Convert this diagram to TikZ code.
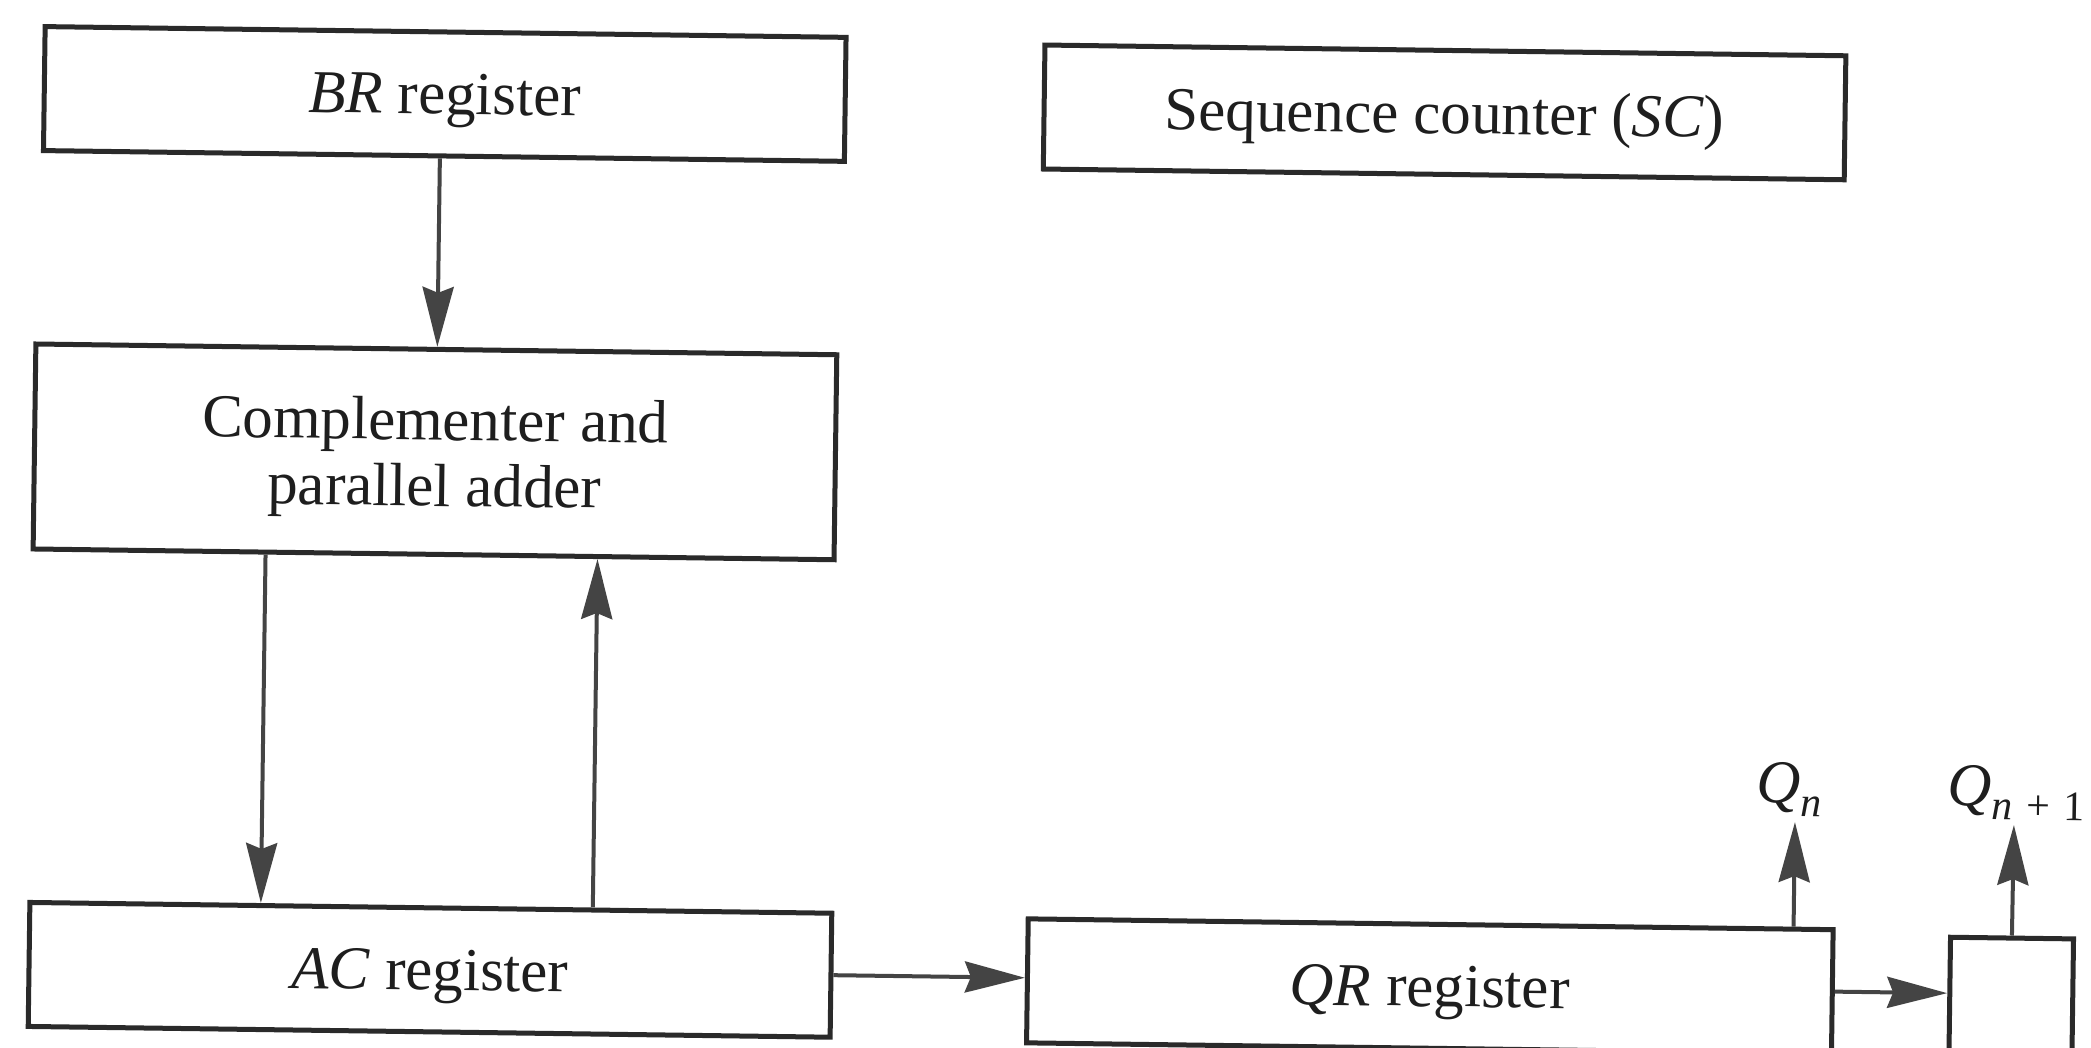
\documentclass[tikz,border=0pt]{standalone}
\usepackage{fontspec}
\setmainfont{Liberation Serif}
\usetikzlibrary{arrows.meta}
\definecolor{boxline}{HTML}{2A2A2A}
\definecolor{arrline}{HTML}{444444}
\definecolor{txt}{HTML}{1E1E1E}
\newcommand{\subsz}[1]{\raisebox{-0.22em}{\fontsize{42}{42}\selectfont #1}}
\begin{document}
\begin{tikzpicture}[x=1pt,y=-1pt,
  reg/.style={draw=boxline, line width=5pt, minimum height=124pt, inner sep=0pt,
    align=center, text=txt, text depth=0pt, font=\fontsize{61}{66}\selectfont},
  lbl/.style={inner sep=0pt, text=txt, font=\fontsize{61}{66}\selectfont},
  arr/.style={draw=arrline, line width=4pt,
    -{Stealth[length=60pt,width=31pt,inset=6pt]}}]
\useasboundingbox[fill=white] (0,0) rectangle (2091,1048);
\begin{scope}[rotate around={-0.77:(0,0)}, transform shape]
  % registers
  \node[reg, minimum width=801pt] (br) at (446,88) {\textit{BR} register};
  \node[reg, minimum width=801pt] (sc) at (1446,93) {Sequence counter (\textit{SC})};
  \node[reg, minimum width=801pt, minimum height=205pt] (comp) at (441,446)
    {Complementer and\\parallel adder};
  \node[reg, minimum width=802pt] (ac) at (443,964) {\textit{AC} register};
  \node[reg, minimum width=805pt] (qr) at (1443,967) {\textit{QR} register};
  \node[reg, minimum width=123pt, minimum height=138pt] (sm) at (2024.5,980) {};
  % output labels
  \node[lbl, anchor=base] (qn) at (1800,779) {\textit{Q}\subsz{\textit{n}}};
  \node[lbl, anchor=base] (qn1) at (2027,779) {\textit{Q}\subsz{\textit{n}\,\,+\,\,1}};
  % connectors
  \draw[arr] ([xshift=-4pt]br.south) -- ([xshift=1pt]comp.north);
  \draw[arr] ([xshift=-168pt]comp.south) -- ([xshift=-170pt]ac.north);
  \draw[arr] ([xshift=162pt]ac.north) -- ([xshift=164pt]comp.south);
  \draw[arr] (ac.east) -- ([yshift=3pt]qr.west);
  \draw[arr] (qr.east) -- ([yshift=13pt]sm.west);
  \draw[arr] ([xshift=363pt]qr.north) -- ([xshift=6pt,yshift=-19pt]qn.base);
  \draw[arr] (sm.north) -- ([xshift=-2pt,yshift=-19pt]qn1.base);
\end{scope}
\end{tikzpicture}
\end{document}
